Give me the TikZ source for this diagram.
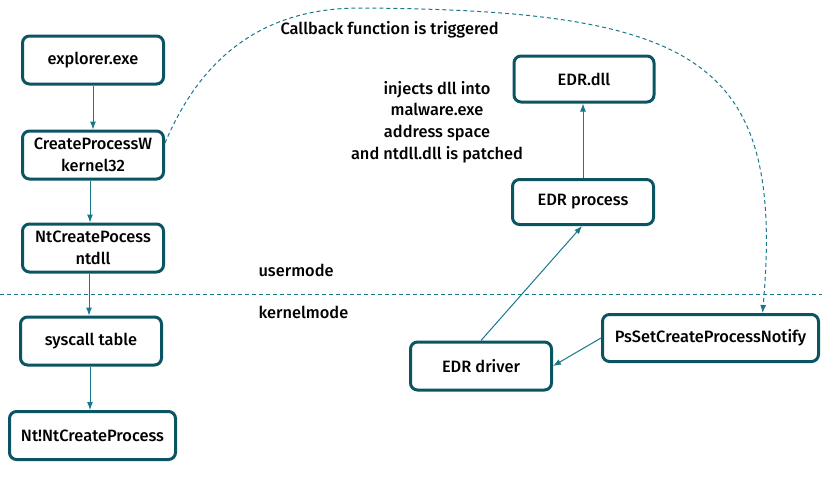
\documentclass[tikz,border=0pt]{standalone}
\usepackage{xcolor}
\usepackage{fontspec}
\setmainfont{Fira Sans}[UprightFont={* Medium}]
\usetikzlibrary{arrows.meta}

\definecolor{boxteal}{HTML}{0B5563}
\definecolor{lineteal}{HTML}{16788A}

\begin{document}
\begin{tikzpicture}[x=1pt, y=-1pt,
  every node/.style={font=\fontsize{16.4}{21.7}\selectfont},
  box/.style={draw=boxteal, line width=3pt, rounded corners=7pt, inner sep=2pt,
    minimum width=141pt, minimum height=48pt, align=center},
  link/.style={draw=lineteal, line width=1pt, -{Latex[length=8pt,width=6pt]}},
  border/.style={draw=lineteal, line width=1pt, dash pattern=on 4pt off 3pt}]
\useasboundingbox (0,0) rectangle (829,477);

\node[box] (explorer) at (93,60) {explorer.exe};
\node[box] (cpw) at (93,155) {CreateProcessW\\kernel32};
\node[box] (ntcp) at (93,248) {NtCreatePocess\\ntdll};
\node[box] (syscall) at (91,341) {syscall table};
\node[box, minimum width=166pt] (ntbang) at (92.5,435.5) {Nt!NtCreateProcess};

\node[box, minimum width=140pt, minimum height=46pt] (edrdll) at (584,79) {EDR.dll};
\node[box, minimum width=141pt, minimum height=45pt] (edrproc) at (583,202) {EDR process};
\node[box, minimum width=216pt, minimum height=47pt] (psnotify) at (710.5,338) {PsSetCreateProcessNotify};
\node[box] (edrdriver) at (481,366) {EDR driver};

\node[anchor=west] (user) at (255,270) {usermode};
\node[anchor=west] (kernel) at (255,312) {kernelmode};
\node[anchor=west] (callback) at (277,30) {Callback function is triggered};
\node[align=center] (inject) at (437,122) {injects dll into\\malware.exe\\address space\\and ntdll.dll is patched};

\draw [border] (0,294) -- (822,294);

\draw [link] (explorer.south) -- (explorer.south |- cpw.north);
\draw [link] ([xshift=-3pt]cpw.south) -- ([xshift=-3pt]cpw.south |- ntcp.north);
\draw [link] ([xshift=-4pt]ntcp.south) -- ([xshift=-4pt]ntcp.south |- syscall.north);
\draw [link] ([xshift=-1pt]syscall.south) -- ([xshift=-1pt]syscall.south |- ntbang.north);

\draw [link] (edrproc.north) -- (edrproc.north |- edrdll.south);
\draw [link] (edrdriver.north) -- ([xshift=-1pt]edrproc.south);
\draw [link] (psnotify.west) -- (edrdriver.east);

\draw [link, dash pattern=on 4pt off 3pt] ([yshift=12pt]cpw.east) .. controls (200,60) and (260,8) .. (360,8)
  .. controls (700,10) and (785,60) .. ([xshift=52pt]psnotify.north);

\end{tikzpicture}
\end{document}
